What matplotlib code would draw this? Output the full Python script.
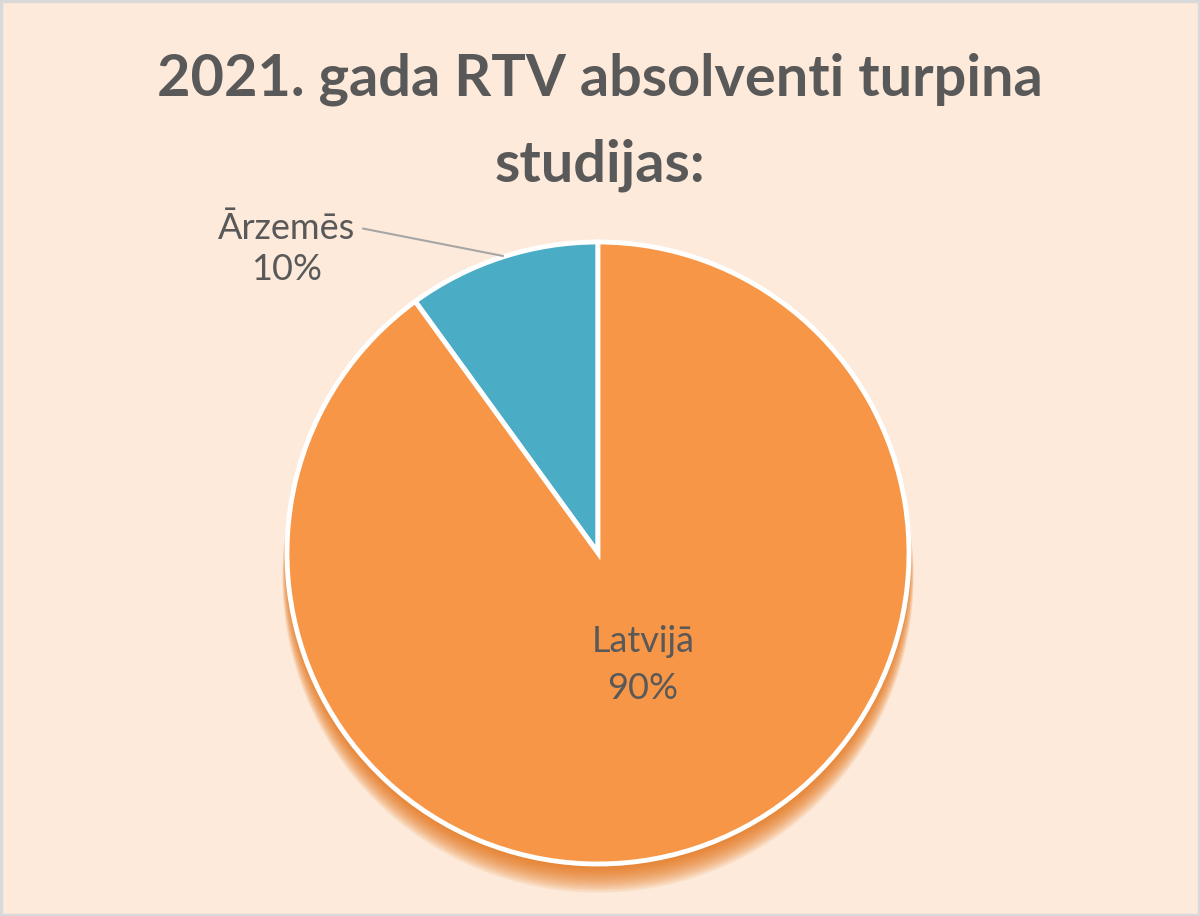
import matplotlib
matplotlib.use('Agg')
import numpy as np
from matplotlib import pyplot as plt
from matplotlib.patches import Circle, Rectangle

# Dati
kategorijas = ['Ārzemēs', 'Latvijā']
vertibas = [10, 90]
krasas = ['#4BACC6', '#F79646']
virsraksts = '2021. gada RTV absolventi turpina\nstudijas:'

fons = '#FDEADA'
teksta_krasa = '#595959'

plt.rcParams['font.family'] = ['Lato', 'DejaVu Sans']

fig = plt.figure(figsize=(12, 9.16), dpi=100)
fig.patch.set_facecolor(fons)

# Rāmis ap attēlu
fig.patches.append(Rectangle((0.001, 0.0015), 0.998, 0.997, transform=fig.transFigure,
                             fill=False, edgecolor='#D9D9D9', linewidth=2.5))

fig.text(0.5, 1 - 53 / 916, virsraksts, ha='center', va='top', fontsize=41.5,
         fontweight='bold', color=teksta_krasa, linespacing=1.75)

# Apļa diagramma
cx, cy, r = 598, 553, 311
ax = fig.add_axes([(cx - r) / 1200, (916 - cy - r) / 916, 2 * r / 1200, 2 * r / 916])
ax.set_xlim(-1, 1)
ax.set_ylim(-1, 1)
ax.set_aspect('equal')
ax.axis('off')

# Ēna zem diagrammas
for k in range(16):
    ax.add_patch(Circle((0, -0.01 - 0.0045 * k), 1.0 + 0.001 * k, color='#E46C0A',
                        alpha=0.085, linewidth=0, zorder=0, clip_on=False))

wedges, _ = ax.pie(vertibas, colors=krasas, startangle=90, counterclock=True,
                   wedgeprops=dict(edgecolor='white', linewidth=3.5),
                   radius=1.0, frame=False)
for w in wedges:
    w.set_zorder(2)
ax.set_xlim(-1, 1)
ax.set_ylim(-1, 1)

summa = sum(vertibas)
etiketes = [f'{k}\n{round(v / summa * 100)}%' for k, v in zip(kategorijas, vertibas)]

ax.annotate(etiketes[0], xy=(-0.305, 0.955), xytext=(-1.003, 0.977),
            ha='center', va='center', fontsize=26, color=teksta_krasa,
            linespacing=1.3, annotation_clip=False,
            arrowprops=dict(arrowstyle='-', color='#A6A6A6', linewidth=1.5,
                            shrinkA=4, shrinkB=0,
                            relpos=(1.0, 0.8)))
ax.text(0.145, -0.36, etiketes[1], ha='center', va='center', fontsize=26,
        color=teksta_krasa, linespacing=1.5, zorder=5)

fig.savefig('out.png', dpi=100, facecolor=fons)
